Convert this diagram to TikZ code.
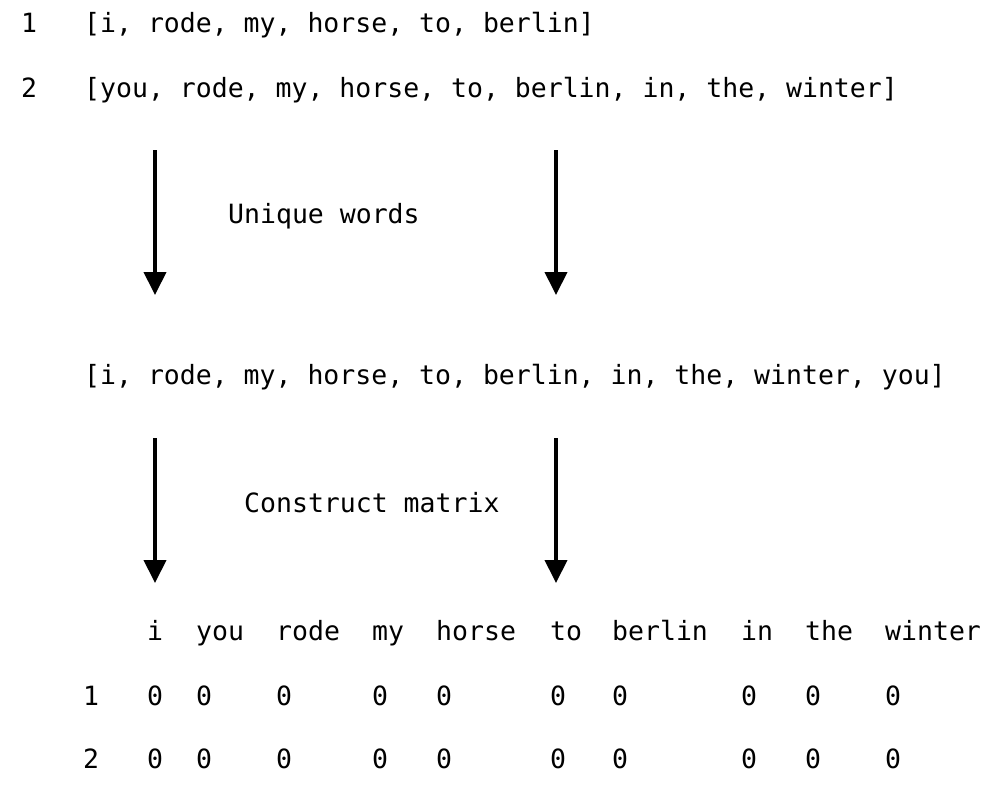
\documentclass[tikz,border=0pt]{standalone}
\usepackage{fontspec}
\setmainfont{DejaVu Sans Mono}
\usetikzlibrary{arrows.meta}
\begin{document}
\begin{tikzpicture}[x=1pt,y=-1pt,
  txt/.style={anchor=base west,inner sep=0pt,font=\fontsize{26.5}{30}\selectfont},
  flow/.style={line width=4pt,-{Triangle[width=22pt,length=23pt]}}]
\useasboundingbox[fill=white] (0,0) rectangle (1000,806);
% input lines
\node[txt] (n1) at (21,32) {1};
\node[txt] (l1) at (84,32) {[i, rode, my, horse, to, berlin]};
\node[txt] (n2) at (21,97) {2};
\node[txt] (l2) at (84,97) {[you, rode, my, horse, to, berlin, in, the, winter]};
% first step
\coordinate (a1s) at (155,150);
\coordinate (a1e) at (155,295);
\coordinate (a2s) at (556,150);
\coordinate (a2e) at (556,295);
\draw[flow] (a1s) -- (a1e);
\draw[flow] (a2s) -- (a2e);
\node[txt] (u) at (228,223) {Unique words};
% vocabulary
\node[txt] (voc) at (84,384) {[i, rode, my, horse, to, berlin, in, the, winter, you]};
% second step
\coordinate (b1s) at (155,438);
\coordinate (b1e) at (155,583);
\coordinate (b2s) at (556,438);
\coordinate (b2e) at (556,583);
\draw[flow] (b1s) -- (b1e);
\draw[flow] (b2s) -- (b2e);
\node[txt] (c) at (244,512) {Construct matrix};
% matrix
\foreach \w/\x [count=\k] in {i/147,you/196,rode/276,my/372,horse/436,to/550,berlin/612,in/741,the/805,winter/885}{
  \node[txt] (h\k) at (\x,640) {\w};
  \node[txt] (ra\k) at (\x,705) {0};
  \node[txt] (rb\k) at (\x,768) {0};
}
\node[txt] (r1) at (83,705) {1};
\node[txt] (r2) at (83,768) {2};
\end{tikzpicture}
\end{document}
